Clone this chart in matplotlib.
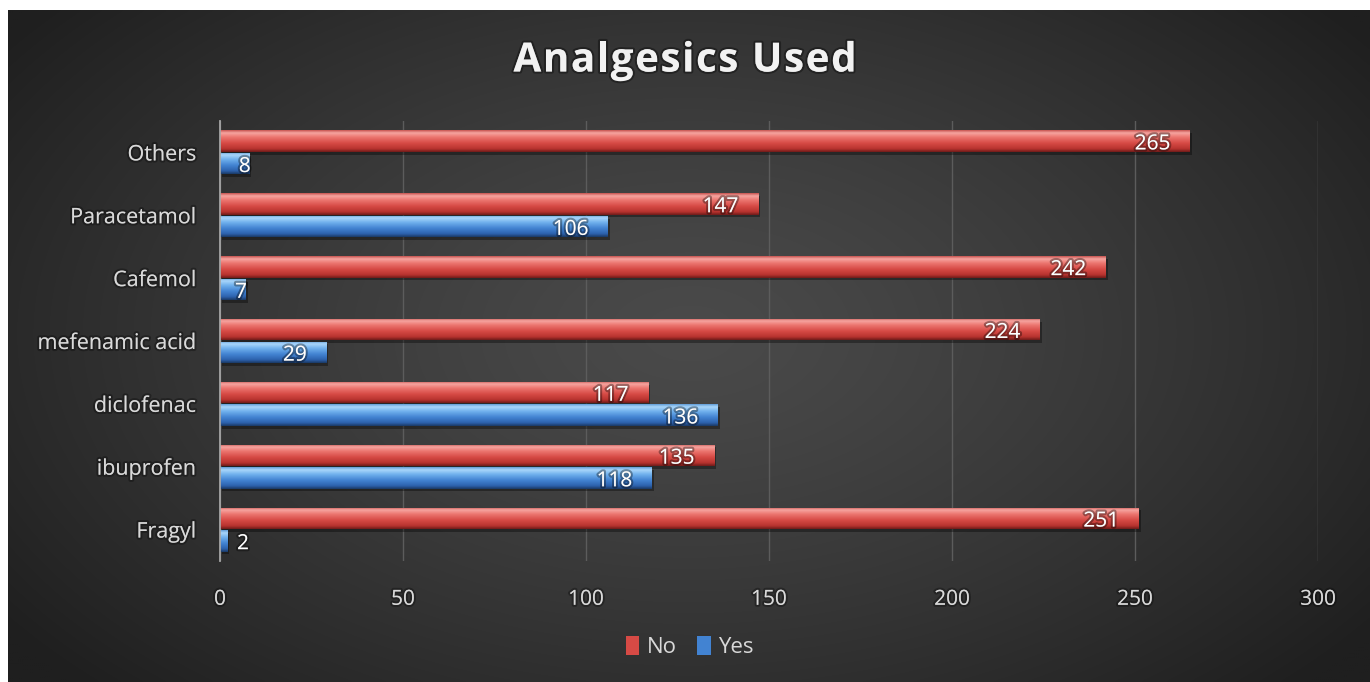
import numpy as np
import matplotlib
matplotlib.use("Agg")
import matplotlib.pyplot as plt
from matplotlib import patheffects as pe
from matplotlib.colors import to_rgb
from matplotlib.patches import Patch
from matplotlib.font_manager import FontProperties
from matplotlib.textpath import TextToPath

# ---- data -------------------------------------------------------------
categories = ["Fragyl", "ibuprofen", "diclofenac", "mefenamic acid",
              "Cafemol", "Paracetamol", "Others"]
no_values = [251, 135, 117, 224, 242, 147, 265]
yes_values = [2, 118, 136, 29, 7, 106, 8]
x_ticks = [0, 50, 100, 150, 200, 250, 300]
series_names = ["No", "Yes"]
title_text = "Analgesics Used"

FONT = "Open Sans"
TEXT_COLOR = "#d9d9d9"

W, H = 1370, 682
fig = plt.figure(figsize=(W / 100, H / 100), dpi=100)
fig.patch.set_facecolor("white")

# ---- dark panel with a soft radial glow -------------------------------
bg = fig.add_axes([8 / W, 0, 1 - 8 / W, 1 - 10 / H])
bg.set_axis_off()
ny, nx = 340, 680
yy, xx = np.mgrid[0:ny, 0:nx]
cx, cy = 0.50 * nx, 0.48 * ny
d = np.sqrt(((xx - cx) / (0.62 * nx)) ** 2 + ((yy - cy) / (0.75 * ny)) ** 2)
d = np.clip(d, 0, 1)
c_in, c_out = 0x4a / 255, 0x1f / 255
val = c_in - (c_in - c_out) * d ** 1.3
bg.imshow(np.dstack([val, val, val]), extent=[0, 1, 0, 1], aspect="auto",
          interpolation="bicubic", origin="upper")
bg.set_xlim(0, 1)
bg.set_ylim(0, 1)

# ---- main plot --------------------------------------------------------
ax = fig.add_axes([220 / W, 1 - 561 / H, (1318 - 220) / W, (561 - 121) / H])
ax.set_facecolor("none")

y = np.arange(len(categories))
bar_h = 0.34
off = 0.18


def gradient_for(stops, n=64):
    pos = np.array([s[0] for s in stops])
    cols = np.array([to_rgb(s[1]) for s in stops])
    t = np.linspace(0, 1, n)
    arr = np.stack([np.interp(t, pos, cols[:, k]) for k in range(3)], axis=1)
    return arr[:, None, :]


red_stops = [(0.0, "#c4504c"), (0.12, "#f7a7a2"), (0.32, "#ec756f"),
             (0.6, "#d64a45"), (0.86, "#b8332f"), (1.0, "#6e1b19")]
blue_stops = [(0.0, "#5f9bd6"), (0.12, "#acd8fb"), (0.32, "#72b2ee"),
              (0.6, "#4283d2"), (0.86, "#2d62ad"), (1.0, "#1a3863")]
red_grad = gradient_for(red_stops)
blue_grad = gradient_for(blue_stops)

shadow = [pe.SimplePatchShadow(offset=(1.5, -2), shadow_rgbFace="black", alpha=0.35),
          pe.Normal()]

no_bars = ax.barh(y + off, no_values, height=bar_h, color="#d64a45",
                  linewidth=0, zorder=3, path_effects=shadow)
yes_bars = ax.barh(y - off, yes_values, height=bar_h, color="#4283d2",
                   linewidth=0, zorder=3, path_effects=shadow)

for bars, grad in ((no_bars, red_grad), (yes_bars, blue_grad)):
    for b in bars:
        x0, y0 = b.get_x(), b.get_y()
        w, h = b.get_width(), b.get_height()
        im = ax.imshow(grad, extent=[x0, x0 + w, y0, y0 + h], aspect="auto",
                       interpolation="bicubic", origin="upper", zorder=4)
        im.set_clip_path(b)

label_fx = [pe.withStroke(linewidth=3, foreground=(0, 0, 0, 0.35))]


def add_labels(bars, values):
    for b, v in zip(bars, values):
        yc = b.get_y() + b.get_height() / 2
        if v >= 20:
            dx, ha = -14, "right"
        elif v >= 5:
            dx, ha = 1, "right"
        else:
            dx, ha = 7, "left"
        ax.annotate(str(v), (v, yc), xytext=(dx, -2), textcoords="offset points",
                    ha=ha, va="center", color="white", fontsize=15,
                    family=FONT, zorder=6, path_effects=label_fx)


add_labels(no_bars, no_values)
add_labels(yes_bars, yes_values)

ax.set_xlim(0, 300)
ax.set_ylim(-0.5, len(categories) - 0.5)
ax.set_xticks(x_ticks)
ax.set_xticklabels([str(t) for t in x_ticks])
ax.set_yticks(y)
ax.set_yticklabels(categories)

tick_fx = [pe.withStroke(linewidth=3, foreground=(0, 0, 0, 0.3))]
ax.tick_params(axis="both", length=0, colors=TEXT_COLOR)
ax.tick_params(axis="y", pad=17, labelsize=15.5)
ax.tick_params(axis="x", pad=20, labelsize=15)
for lab in ax.get_xticklabels() + ax.get_yticklabels():
    lab.set_family(FONT)
    lab.set_path_effects(tick_fx)

ax.grid(axis="x", color="#5c5c5c", linewidth=1.0, zorder=0)
ax.set_axisbelow(True)
for side in ("top", "right", "bottom"):
    ax.spines[side].set_visible(False)
ax.spines["left"].set_color("#a6a6a6")
ax.spines["left"].set_linewidth(1.3)
ax.spines["left"].set_zorder(5)

# ---- title with extra letter spacing ----------------------------------
title_prop = FontProperties(family=FONT, weight="bold", size=29)
t2p = TextToPath()
px_per_pt = 100 / 72
spacing_px = 1.6


def prefix_width(s):
    if not s:
        return 0.0
    w, _, _ = t2p.get_text_width_height_descent(s, title_prop, ismath=False)
    return w * px_per_pt


total_w = prefix_width(title_text) + spacing_px * (len(title_text) - 1)
x_start = 685 - total_w / 2
title_fx = [pe.withStroke(linewidth=3, foreground=(0, 0, 0, 0.35))]
for i, ch in enumerate(title_text):
    if ch == " ":
        continue
    xp = x_start + prefix_width(title_text[:i]) + spacing_px * i
    fig.text(xp / W, 1 - 61 / H, ch, ha="left", va="center",
             color="#f2f2f2", fontproperties=title_prop, path_effects=title_fx)

# ---- legend -----------------------------------------------------------
handles = [Patch(facecolor="#d64a45", edgecolor="none"),
           Patch(facecolor="#4283d2", edgecolor="none")]
leg = fig.legend(handles, series_names, loc="center",
                 bbox_to_anchor=(690 / W, 1 - 647 / H), ncol=2, frameon=False,
                 handlelength=0.6, handleheight=0.9, handletextpad=0.35,
                 columnspacing=0.9, prop={"family": FONT, "size": 16})
for t in leg.get_texts():
    t.set_color(TEXT_COLOR)

fig.savefig("out.png", dpi=100, facecolor=fig.get_facecolor())
